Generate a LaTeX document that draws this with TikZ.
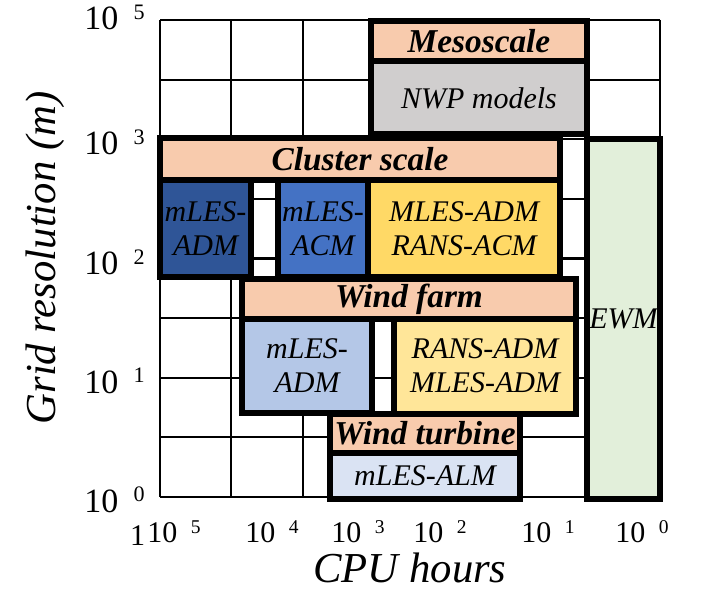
\documentclass[tikz,border=0pt]{standalone}
\usepackage{fontspec}
\setmainfont{Liberation Serif}
\usetikzlibrary{calc}
\definecolor{peach}{RGB}{248,203,173}
\definecolor{nwpgray}{RGB}{208,206,206}
\definecolor{darkblue}{RGB}{47,85,151}
\definecolor{midblue}{RGB}{68,114,196}
\definecolor{paleblue}{RGB}{180,199,231}
\definecolor{faintblue}{RGB}{218,227,243}
\definecolor{gold}{RGB}{255,217,102}
\definecolor{lightgold}{RGB}{255,230,153}
\definecolor{palegreen}{RGB}{226,239,218}
\tikzstyle{gridline}=[black,line width=1.6pt]
\tikzstyle{boxline}=[draw=black,line width=4.5pt]
\tikzstyle{modeltext}=[inner sep=0pt,align=center,font=\fontsize{22.5}{25.5}\selectfont\itshape]
\tikzstyle{scaletext}=[inner sep=0pt,font=\fontsize{25}{28}\selectfont\bfseries\itshape]
\tikzstyle{ytick}=[inner sep=0pt,anchor=base east,font=\fontsize{25.5}{28}\selectfont]
\tikzstyle{xtick}=[inner sep=0pt,anchor=base,font=\fontsize{22.5}{26}\selectfont]
\tikzstyle{axistitle}=[inner sep=0pt,font=\fontsize{32}{36}\selectfont\itshape]
\newcommand{\tenpow}[1]{10\hspace{0.45em}\raisebox{0.3em}{\scalebox{0.65}{#1}}}
% Syntax: \modelbox[fill](x1,y1)(x2,y2) -- corners in pixels
\def\modelbox[#1](#2,#3)(#4,#5){ \draw[boxline,fill=#1] (#2,#3) rectangle (#4,#5); }
\begin{document}
\begin{tikzpicture}[x=0.75pt,y=-0.75pt]
\useasboundingbox (0,0) rectangle (710,591);
% background grid, 7 columns by 8 rows
\foreach \i in {0,...,7}
  \draw[gridline] ({160+\i*71.43},20) -- ({160+\i*71.43},497);
\foreach \j in {0,...,8}
  \draw[gridline] (160,{20+\j*59.63}) -- (660,{20+\j*59.63});
% mesoscale
\modelbox[peach](371,21)(587,61)
\modelbox[nwpgray](371,61)(587,134)
\node[scaletext] (meso) at (479,41) {Mesoscale};
\node[modeltext] (nwp) at (479,98) {NWP models};
% cluster scale
\modelbox[peach](160,138)(560,180)
\modelbox[darkblue](160,180)(251,277)
\modelbox[midblue](278,180)(368,277)
\modelbox[gold](368,180)(560,277)
\node[scaletext] (cluster) at (360,159) {Cluster scale};
\node[modeltext] (clusteradm) at (205.5,229) {mLES-\\ADM};
\node[modeltext] (clusteracm) at (323,229) {mLES-\\ACM};
\node[modeltext] (clustermles) at (464,229) {MLES-ADM\\RANS-ACM};
% wind farm
\modelbox[peach](242,279)(576,319)
\modelbox[paleblue](242,319)(372,413)
\modelbox[lightgold](394,319)(576,414)
\node[scaletext] (farm) at (409,299) {Wind farm};
\node[modeltext] (farmadm) at (307,366) {mLES-\\ADM};
\node[modeltext] (farmrans) at (485,366) {RANS-ADM\\MLES-ADM};
% wind turbine
\modelbox[peach](330,414)(520,453)
\modelbox[faintblue](330,453)(520,499)
\node[scaletext] (turbine) at (425,433.5) {Wind turbine};
\node[modeltext] (alm) at (425,476) {mLES-ALM};
% engineering wake models
\modelbox[palegreen](587,139)(660,499)
\node[modeltext] (ewm) at (623.5,319) {EWM};
% axis labels
\node[ytick] (y5) at (145,30) {\tenpow{5}};
\node[ytick] (y3) at (145,155) {\tenpow{3}};
\node[ytick] (y2) at (145,275) {\tenpow{2}};
\node[ytick] (y1) at (145,393) {\tenpow{1}};
\node[ytick] (y0) at (145,512) {\tenpow{0}};
\node[xtick] (xone) at (137.5,545) {1};
\node[xtick] (x5) at (174,542) {\tenpow{5}};
\node[xtick] (x4) at (272,542) {\tenpow{4}};
\node[xtick] (x3) at (358,542) {\tenpow{3}};
\node[xtick] (x2) at (440,542) {\tenpow{2}};
\node[xtick] (x1) at (548,542) {\tenpow{1}};
\node[xtick] (x0) at (642,542) {\tenpow{0}};
\node[axistitle,anchor=base] (cpu) at (410,582) {CPU hours};
\node[axistitle,rotate=90] (gridres) at (45,258) {Grid resolution (m)};
\end{tikzpicture}
\end{document}
